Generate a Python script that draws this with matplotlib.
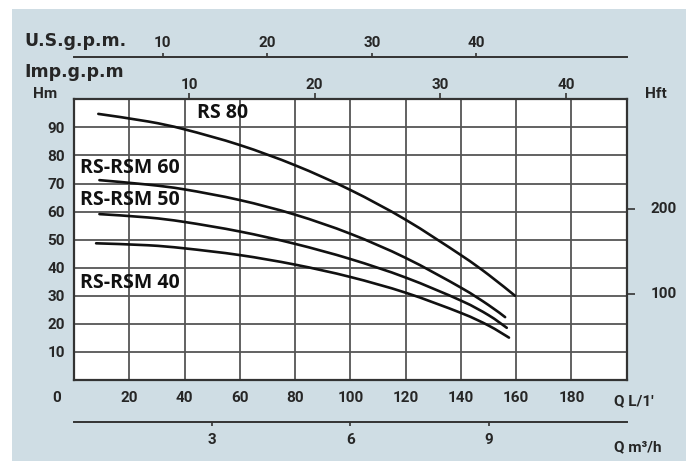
import matplotlib
matplotlib.use("Agg")
import numpy as np
import matplotlib.pyplot as plt
import matplotlib.transforms as mtransforms
from matplotlib.patches import Rectangle, PathPatch
from matplotlib.path import Path

# ---------------- data ----------------
q_rs80 = [8.8, 26.8, 40, 60, 80, 100, 120, 140, 150, 159.6]
h_rs80 = [94.8, 92.1, 89.3, 83.7, 76.5, 67.7, 57.1, 44.5, 37.5, 30.0]
q_rs60 = [9.2, 26.8, 40, 60, 80, 100, 120, 140, 150, 156.0]
h_rs60 = [71.2, 69.6, 67.9, 64.1, 58.9, 52.1, 43.5, 32.9, 26.7, 22.4]
q_rs50 = [9.2, 26.8, 40, 60, 80, 100, 120, 140, 150, 156.6]
h_rs50 = [59.1, 57.9, 56.3, 52.9, 48.5, 43.1, 36.5, 28.3, 23.1, 18.6]
q_rs40 = [8.0, 26.8, 40, 60, 80, 100, 120, 140, 150, 157.4]
h_rs40 = [48.7, 48.0, 46.9, 44.5, 41.1, 36.7, 31.1, 23.9, 19.4, 15.1]

series_names = ["RS 80", "RS-RSM 60", "RS-RSM 50", "RS-RSM 40"]

q_ticks = [20, 40, 60, 80, 100, 120, 140, 160, 180]
h_ticks = [10, 20, 30, 40, 50, 60, 70, 80, 90]
hft_ticks = [100, 200]
m3h_ticks = [3, 6, 9]
# positions (in L/min) of the gallon-per-minute ticks
us_gpm_pos = [32.1, 70.0, 107.8, 145.5]
us_gpm_labels = ["10", "20", "30", "40"]
imp_gpm_pos = [41.6, 87.1, 132.5, 178.0]
imp_gpm_labels = ["10", "20", "30", "40"]

# ---------------- style ----------------
W, H = 689, 462
BG = "#cfdde4"
TXT = "#262626"
GRID = "#555555"
NUMFONT = dict(family=["Roboto", "DejaVu Sans"], weight="bold", size=11, color=TXT)
LBLFONT = dict(family=["DejaVu Sans"], weight="bold", size=12.5, color=TXT)
CURVEFONT = dict(family=["Open Sans", "DejaVu Sans"], weight="bold", size=14, color="#111111")

fig = plt.figure(figsize=(W / 100, H / 100), dpi=100)
fig.patch.set_facecolor("white")
fig.patches.append(Rectangle((12 / W, 1 - 461 / H), 674 / W, 452 / H,
                             transform=fig.transFigure, facecolor=BG,
                             edgecolor="none", zorder=-10))

L, R, T, B = 74, 626.7, 99.3, 380
ax = fig.add_axes([L / W, 1 - B / H, (R - L) / W, (B - T) / H])
ax.set_xlim(0, 200)
ax.set_ylim(0, 100)
ax.set_facecolor("white")
for s in ax.spines.values():
    s.set_color("#333333")
    s.set_linewidth(1.6)

ax.set_xticks(q_ticks, labels=[str(v) for v in q_ticks])
ax.set_yticks(h_ticks, labels=[str(v) for v in h_ticks])
ax.tick_params(axis="x", length=0, pad=8)
ax.tick_params(axis="y", length=0, pad=6.5)
for lab in ax.get_xticklabels() + ax.get_yticklabels():
    lab.set_fontfamily(NUMFONT["family"])
    lab.set_fontweight("bold")
    lab.set_fontsize(11)
    lab.set_color(TXT)
ax.grid(True, color=GRID, linewidth=1.3)
ax.set_axisbelow(True)


def smooth_curve(q, h):
    """Catmull-Rom spline through the read points, drawn as cubic Bezier path."""
    P = np.column_stack([q, h]).astype(float)
    n = len(P)
    verts = [P[0]]
    codes = [Path.MOVETO]
    for i in range(n - 1):
        p0 = P[i - 1] if i > 0 else P[i]
        p1, p2 = P[i], P[i + 1]
        p3 = P[i + 2] if i + 2 < n else P[i + 1]
        c1 = p1 + (p2 - p0) / 6.0
        c2 = p2 - (p3 - p1) / 6.0
        verts += [c1, c2, p2]
        codes += [Path.CURVE4] * 3
    return Path(verts, codes)


for q, h in [(q_rs80, h_rs80), (q_rs60, h_rs60), (q_rs50, h_rs50), (q_rs40, h_rs40)]:
    ax.add_patch(PathPatch(smooth_curve(q, h), facecolor="none", edgecolor="#111111",
                           linewidth=1.9, capstyle="round", joinstyle="round", zorder=5))

# curve labels
ax.text(44.4, 95.0, series_names[0], va="center", ha="left", **CURVEFONT)
ax.text(2.2, 75.6, series_names[1], va="center", ha="left", **CURVEFONT)
ax.text(2.2, 64.0, series_names[2], va="center", ha="left", **CURVEFONT)
ax.text(2.2, 34.4, series_names[3], va="center", ha="left", **CURVEFONT)


def style_ticklabels(axis_obj):
    for lab in axis_obj.get_ticklabels():
        lab.set_fontfamily(NUMFONT["family"])
        lab.set_fontweight("bold")
        lab.set_fontsize(11)
        lab.set_color(TXT)


# Imp. g.p.m. on top border
imp = ax.secondary_xaxis("top")
imp.set_xticks(imp_gpm_pos, labels=imp_gpm_labels)
imp.tick_params(axis="x", direction="out", length=4.5, width=1.2, color="#333333", pad=1)
imp.spines["top"].set_visible(False)
style_ticklabels(imp.xaxis)

# U.S. g.p.m. line above
us = ax.secondary_xaxis((B - 57.3) / (B - T))
us.set_xticks(us_gpm_pos, labels=us_gpm_labels)
us.tick_params(axis="x", direction="out", length=3, width=1.2, color="#333333", pad=2.5)
us.spines["top"].set_linewidth(1.4)
us.spines["top"].set_color("#333333")
style_ticklabels(us.xaxis)

# m3/h line below
m3 = ax.secondary_xaxis((B - 422.3) / (B - T), functions=(lambda q: q * 0.06, lambda m: m / 0.06))
m3.set_xticks(m3h_ticks, labels=[str(v) for v in m3h_ticks])
m3.tick_params(axis="x", direction="out", length=3, width=1.2, color="#333333", pad=4.5)
m3.spines["bottom"].set_linewidth(1.4)
m3.spines["bottom"].set_color("#333333")
style_ticklabels(m3.xaxis)

# Hft on right (tick marks from a secondary axis, labels placed as text)
hft = ax.secondary_yaxis("right", functions=(lambda m: m / 0.3048, lambda f: f * 0.3048))
hft.set_yticks(hft_ticks, labels=["" for _ in hft_ticks])
hft.tick_params(axis="y", direction="out", length=6, width=1.2, color="#333333")
hft.spines["right"].set_visible(False)
blend = mtransforms.blended_transform_factory(ax.transAxes, ax.transData)
for ft in hft_ticks:
    ax.text((677 - L) / (R - L), ft * 0.3048, str(ft), transform=blend,
            ha="right", va="center", clip_on=False, **NUMFONT)


def ftext(x, y, s, ha="left", **kw):
    fig.text(x / W, 1 - y / H, s, ha=ha, va="center", **kw)


ftext(24, 40.7, "U.S.g.p.m.", **LBLFONT)
ftext(24, 71.7, "Imp.g.p.m", **LBLFONT)
ftext(45, 94, "Hm", ha="center", **NUMFONT)
ftext(656, 94, "Hft", ha="center", **NUMFONT)
ftext(56.7, 398, "0", ha="center", **NUMFONT)
ftext(614, 401, "Q L/1'", **NUMFONT)
ftext(614, 447, "Q m³/h", **NUMFONT)

fig.savefig("out.png", dpi=100, facecolor=fig.get_facecolor())
